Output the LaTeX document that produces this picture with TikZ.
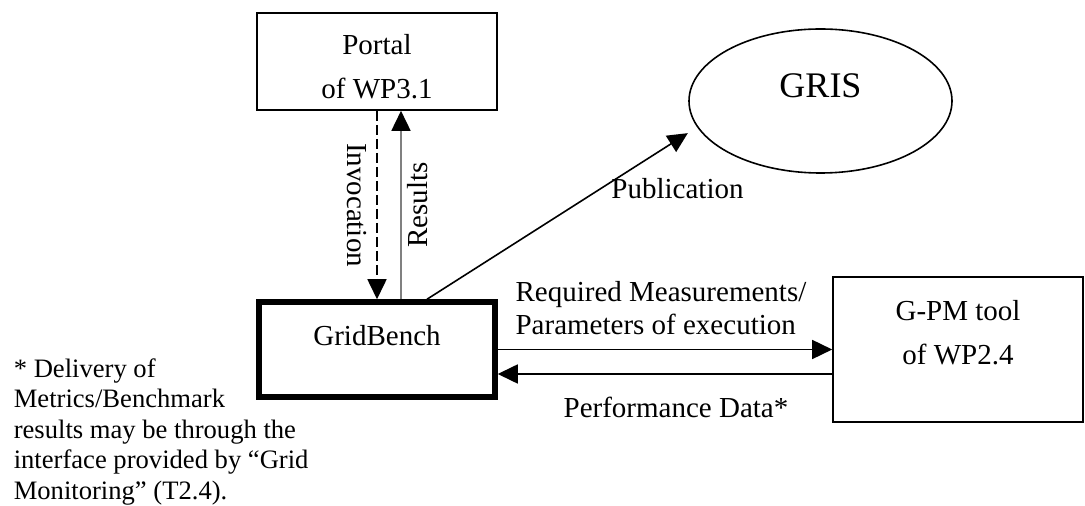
\documentclass[tikz,border=0pt]{standalone}
\usepackage{fontspec}
\setmainfont{Liberation Serif}
\usetikzlibrary{arrows.meta,shapes.geometric}
\definecolor{resultgray}{gray}{0.5}

\begin{document}
\begin{tikzpicture}[x=1pt,y=1pt,line width=1.6pt,>={Triangle[length=20pt,width=19pt]},
                    box/.style={draw,rectangle,align=center,font=\fontsize{29}{44}\selectfont},
                    lbl/.style={inner sep=0pt,font=\fontsize{29}{33.4}\selectfont}]
                    \useasboundingbox (0,0) rectangle (1085,506);

                    \node[box,line width=5.5pt,minimum width=236pt,minimum height=95pt,text depth=29pt] (bench) at (377,156.5) {GridBench};
                    \node[box,minimum width=240pt,minimum height=97pt,text height=75pt] (portal) [above of = bench,node distance=288pt] {Portal\\of WP3.1};
                    \node[box,minimum width=250pt,minimum height=145pt,text depth=35pt] (gpm) [right of = bench,node distance=581pt] {G-PM tool\\of WP2.4};
                    \node[draw,ellipse,minimum width=263pt,minimum height=144pt,text depth=30pt,font=\fontsize{36}{40}\selectfont] (gris) at (820.5,405) {GRIS};

                    \node[anchor=north west,align=left,inner sep=0pt,font=\fontsize{26.6}{30.4}\selectfont] (note) at (13,148)
                        {* Delivery of\\Metrics/Benchmark\\results may be through the\\interface provided by “Grid\\Monitoring” (T2.4).};

                    \draw [->,dash pattern=on 10pt off 4pt] (portal.south) -- (bench.north)
                        node[midway,xshift=-20pt,rotate=-90,lbl] {Invocation};
                    \draw [-{Triangle[length=20pt,width=19pt,color=black]},draw=resultgray] ([xshift=24pt]bench.north) -- ([xshift=24pt]portal.south)
                        node[midway,xshift=17pt,rotate=90,lbl] {Results};

                    \draw [->,shorten >=11pt] ([xshift=50pt]bench.north) -- (gris.192)
                        node[pos=.68,anchor=base west,yshift=-16pt,lbl] {Publication};

                    \draw [->] (bench.east) -- (gpm.west)
                        node[midway,above=14pt,xshift=-4pt,align=left,lbl] {Required Measurements/\\Parameters of execution};
                    \draw [<-] ([yshift=-24.5pt]bench.east) -- ([yshift=-24.5pt]gpm.west)
                        node[midway,below=22pt,xshift=11pt,lbl] {Performance Data*};

                \end{tikzpicture}
\end{document}
